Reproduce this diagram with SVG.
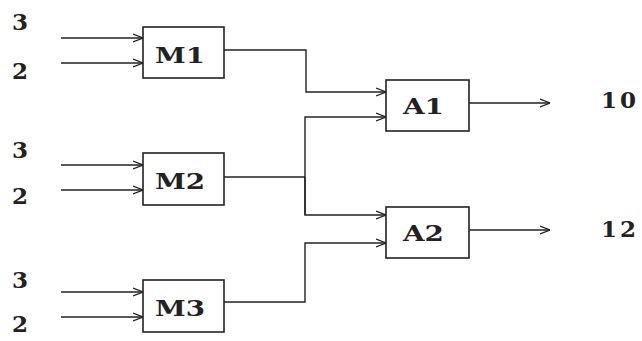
<svg xmlns="http://www.w3.org/2000/svg" width="642" height="341" viewBox="0 0 642 341">
  <defs>
    <marker id="arr" viewBox="0 0 10 10" refX="10" refY="5" markerWidth="10" markerHeight="10" markerUnits="userSpaceOnUse" orient="auto">
      <path d="M0,1 L10,5 L0,9" fill="none" stroke="#222" stroke-width="1.3"/>
    </marker>
  </defs>
  <style>
    .box { fill: #fff; stroke: #222; stroke-width: 1.6; }
    .lbl { font-family: "DejaVu Serif", "Liberation Serif", serif; font-weight: bold; font-size: 22px; fill: #222; }
    .in { font-family: "DejaVu Serif", "Liberation Serif", serif; font-weight: bold; font-size: 23px; fill: #222; }
    .wire { fill: none; stroke: #222; stroke-width: 1.4; }
    .arrow { fill: none; stroke: #222; stroke-width: 1.4; marker-end: url(#arr); }
  </style>
  <rect width="642" height="341" fill="#fff"/>

  <!-- input values -->
  <g id="inputs">
    <text class="in" x="12" y="30">3</text>
    <text class="in" x="12" y="79">2</text>
    <text class="in" x="12" y="158">3</text>
    <text class="in" x="12" y="204">2</text>
    <text class="in" x="12" y="288">3</text>
    <text class="in" x="12" y="332">2</text>
  </g>

  <!-- connectors -->
  <g id="connectors">
    <line class="arrow" x1="61" y1="38" x2="143" y2="38"/>
    <line class="arrow" x1="61" y1="63" x2="143" y2="63"/>
    <line class="arrow" x1="61" y1="165" x2="143" y2="165"/>
    <line class="arrow" x1="61" y1="190" x2="143" y2="190"/>
    <line class="arrow" x1="61" y1="292" x2="143" y2="292"/>
    <line class="arrow" x1="61" y1="317" x2="143" y2="317"/>
    <!-- M1 to A1 -->
    <path class="arrow" d="M224,50 H306 V92 H386"/>
    <!-- M2 fans out to A1 and A2 -->
    <path class="wire" d="M224,177 H305"/>
    <path class="arrow" d="M305,215 V117 H386"/>
    <path class="arrow" d="M305,177 V215 H386"/>
    <!-- M3 to A2 -->
    <path class="arrow" d="M224,302 H305 V243 H386"/>
    <!-- outputs -->
    <line class="arrow" x1="469" y1="103" x2="550" y2="103"/>
    <line class="arrow" x1="469" y1="230" x2="550" y2="230"/>
  </g>

  <g id="M1">
    <rect class="box" x="143" y="27" width="81" height="51"/>
    <text class="lbl" x="155" y="63" textLength="50" lengthAdjust="spacingAndGlyphs">M1</text>
  </g>
  <g id="M2">
    <rect class="box" x="143" y="153" width="81" height="52"/>
    <text class="lbl" x="155" y="189" textLength="50" lengthAdjust="spacingAndGlyphs">M2</text>
  </g>
  <g id="M3">
    <rect class="box" x="143" y="280" width="81" height="52"/>
    <text class="lbl" x="155" y="316" textLength="50" lengthAdjust="spacingAndGlyphs">M3</text>
  </g>
  <g id="A1">
    <rect class="box" x="386" y="80" width="83" height="51"/>
    <text class="lbl" x="403" y="114" textLength="41" lengthAdjust="spacingAndGlyphs">A1</text>
  </g>
  <g id="A2">
    <rect class="box" x="386" y="207" width="83" height="51"/>
    <text class="lbl" x="403" y="241" textLength="41" lengthAdjust="spacingAndGlyphs">A2</text>
  </g>

  <!-- results -->
  <g id="outputs">
    <text class="in" x="601" y="108" letter-spacing="3">10</text>
    <text class="in" x="601" y="237" letter-spacing="3">12</text>
  </g>
</svg>
